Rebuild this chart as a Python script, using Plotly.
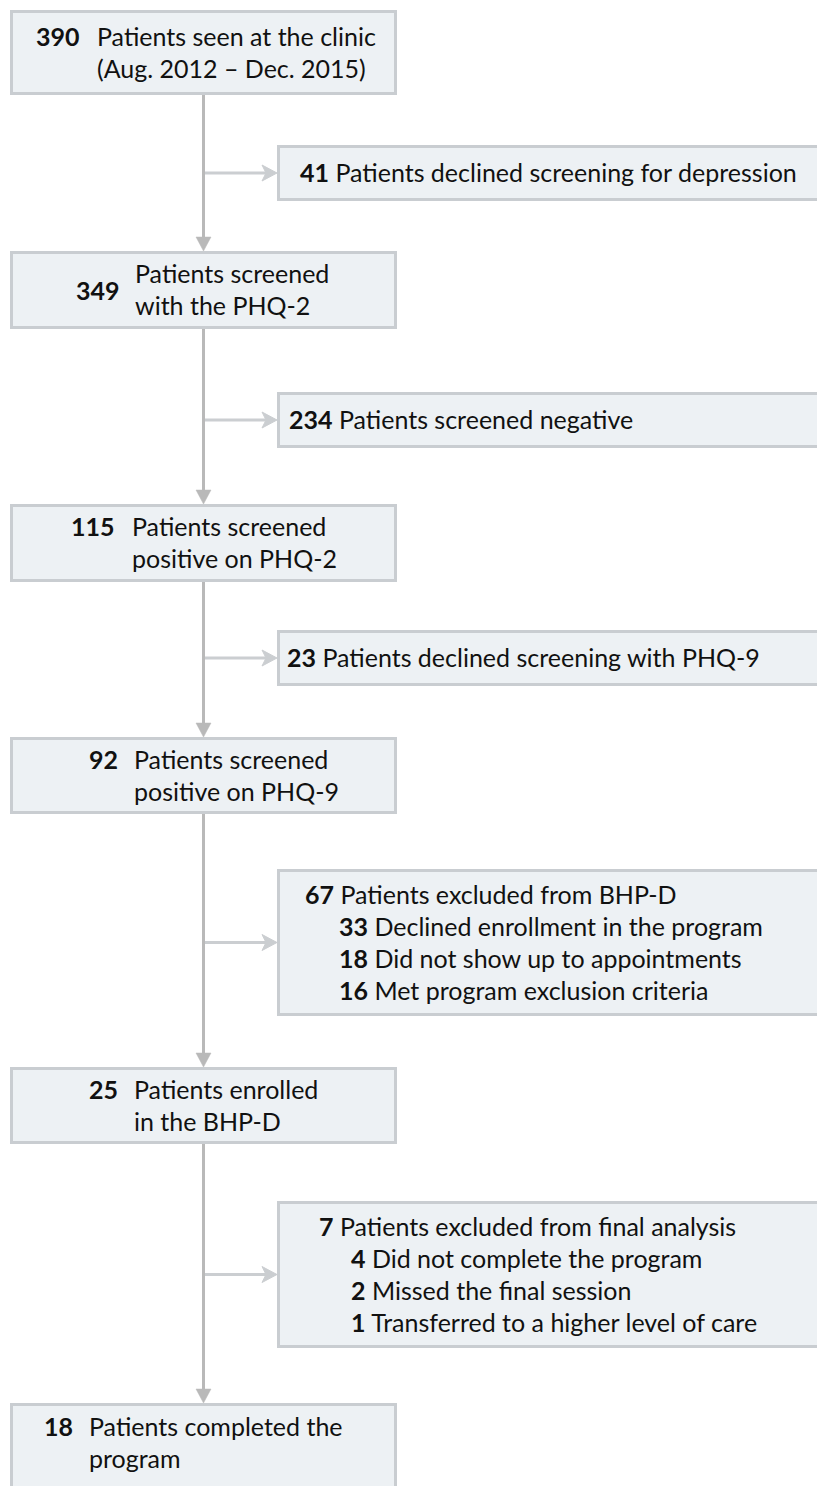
import plotly.graph_objects as go

# ---------------- data ----------------
main_counts = [390, 349, 115, 92, 25, 18]
main_line1 = ["Patients seen at the clinic", "Patients screened", "Patients screened",
              "Patients screened", "Patients enrolled", "Patients completed the"]
main_line2 = ["(Aug. 2012 \u2013 Dec. 2015)", "with the PHQ-2", "positive on PHQ-2",
              "positive on PHQ-9", "in the BHP-D", "program"]

side_counts = [41, 234, 23, 67, 7]
side_labels = ["Patients declined screening for depression",
               "Patients screened negative",
               "Patients declined screening with PHQ-9",
               "Patients excluded from BHP-D",
               "Patients excluded from final analysis"]
sub_counts = [[], [], [], [33, 18, 16], [4, 2, 1]]
sub_labels = [[], [], [],
              ["Declined enrollment in the program", "Did not show up to appointments",
               "Met program exclusion criteria"],
              ["Did not complete the program", "Missed the final session",
               "Transferred to a higher level of care"]]

# ---------------- layout geometry (pixels) ----------------
W, H = 817, 1486
FONT = "Lato"
FS = 25
main_x0, main_x1 = 11.5, 395.5
main_top = [11.5, 252.5, 505.5, 738.5, 1068.5, 1404.5]
main_bot = [93.5, 327.5, 580.5, 812.5, 1142.5, 1500]
num_right = [82, 122, 117, 120, 120, 75]
text_left = [95, 133, 130, 132, 132, 87]
two_line_num_mid = [False, True, False, False, False, False]
stem_x = 203.5

side_x0, side_x1 = 278.5, 840
side_top = [146.5, 393.5, 631.5, 870.5, 1202.5]
side_bot = [199.5, 446.5, 684.5, 1014.5, 1346.5]
side_text_x = [298, 287, 285, 303, 317]
sub_text_x = [None, None, None, 337, 349]
LINE = 32

BOX_FILL = "#edf1f4"
BOX_LINE = "#c9cdd1"
STEM = "#b9b9b9"
BRANCH = "#cbced1"
TXT = "#111111"

fig = go.Figure()
shapes = []
ann = []

def text(x, y, s, anchor="left"):
    ann.append(dict(x=x, y=y, xref="x", yref="y", text=s, showarrow=False,
                    xanchor=anchor, yanchor="middle",
                    font=dict(family=FONT, size=FS, color=TXT)))

# main stems and arrowheads
for i in range(len(main_counts) - 1):
    y0 = main_bot[i] + 1.5
    y1 = main_top[i + 1] - 1.5
    shapes.append(dict(type="line", x0=stem_x, x1=stem_x, y0=y0, y1=y1 - 12,
                       line=dict(color=STEM, width=3), layer="below"))
    shapes.append(dict(type="path",
                       path=f"M {stem_x-7.5},{y1-14} L {stem_x+7.5},{y1-14} L {stem_x},{y1} Z",
                       fillcolor=STEM, line=dict(color=STEM, width=0.5)))

# side branches
for i in range(len(side_counts)):
    yb = (side_top[i] + side_bot[i]) / 2
    tip = side_x0 - 1.5
    shapes.append(dict(type="line", x0=stem_x + 1.5, x1=tip - 4, y0=yb, y1=yb,
                       line=dict(color=BRANCH, width=3)))
    shapes.append(dict(type="path",
                       path=f"M {tip},{yb} L {tip-15},{yb-8} L {tip-11},{yb} L {tip-15},{yb+8} Z",
                       fillcolor=BRANCH, line=dict(color=BRANCH, width=1)))

# main boxes
for i, c in enumerate(main_counts):
    shapes.append(dict(type="rect", x0=main_x0, x1=main_x1, y0=main_top[i], y1=main_bot[i],
                       fillcolor=BOX_FILL, line=dict(color=BOX_LINE, width=3)))
    if i < len(main_counts) - 1:
        cy = (main_top[i] + main_bot[i]) / 2
    else:
        cy = main_top[i] + 38
    l1, l2 = cy - 17, cy + 15
    text(text_left[i], l1, main_line1[i])
    text(text_left[i], l2, main_line2[i])
    ny = cy if two_line_num_mid[i] else l1
    text(num_right[i], ny, f"<b>{c}</b>", anchor="right")

# side boxes
for i, c in enumerate(side_counts):
    shapes.append(dict(type="rect", x0=side_x0, x1=side_x1, y0=side_top[i], y1=side_bot[i],
                       fillcolor=BOX_FILL, line=dict(color=BOX_LINE, width=3)))
    cy = (side_top[i] + side_bot[i]) / 2 - 1
    n = 1 + len(sub_counts[i])
    first = cy - (n - 1) * LINE / 2
    text(side_text_x[i], first, f"<b>{c}</b> {side_labels[i]}")
    for j, (sc, sl) in enumerate(zip(sub_counts[i], sub_labels[i])):
        text(sub_text_x[i], first + (j + 1) * LINE, f"<b>{sc}</b> {sl}")

fig.update_layout(
    width=W, height=H, autosize=False,
    margin=dict(l=0, r=0, t=0, b=0),
    paper_bgcolor="white", plot_bgcolor="white",
    xaxis=dict(range=[0, W], visible=False, fixedrange=True),
    yaxis=dict(range=[H, 0], visible=False, fixedrange=True),
    shapes=shapes, annotations=ann, showlegend=False,
)
fig.write_html("out.html", config={"displayModeBar": False},
               post_script="document.body.style.margin='0';document.body.style.overflow='hidden';")
